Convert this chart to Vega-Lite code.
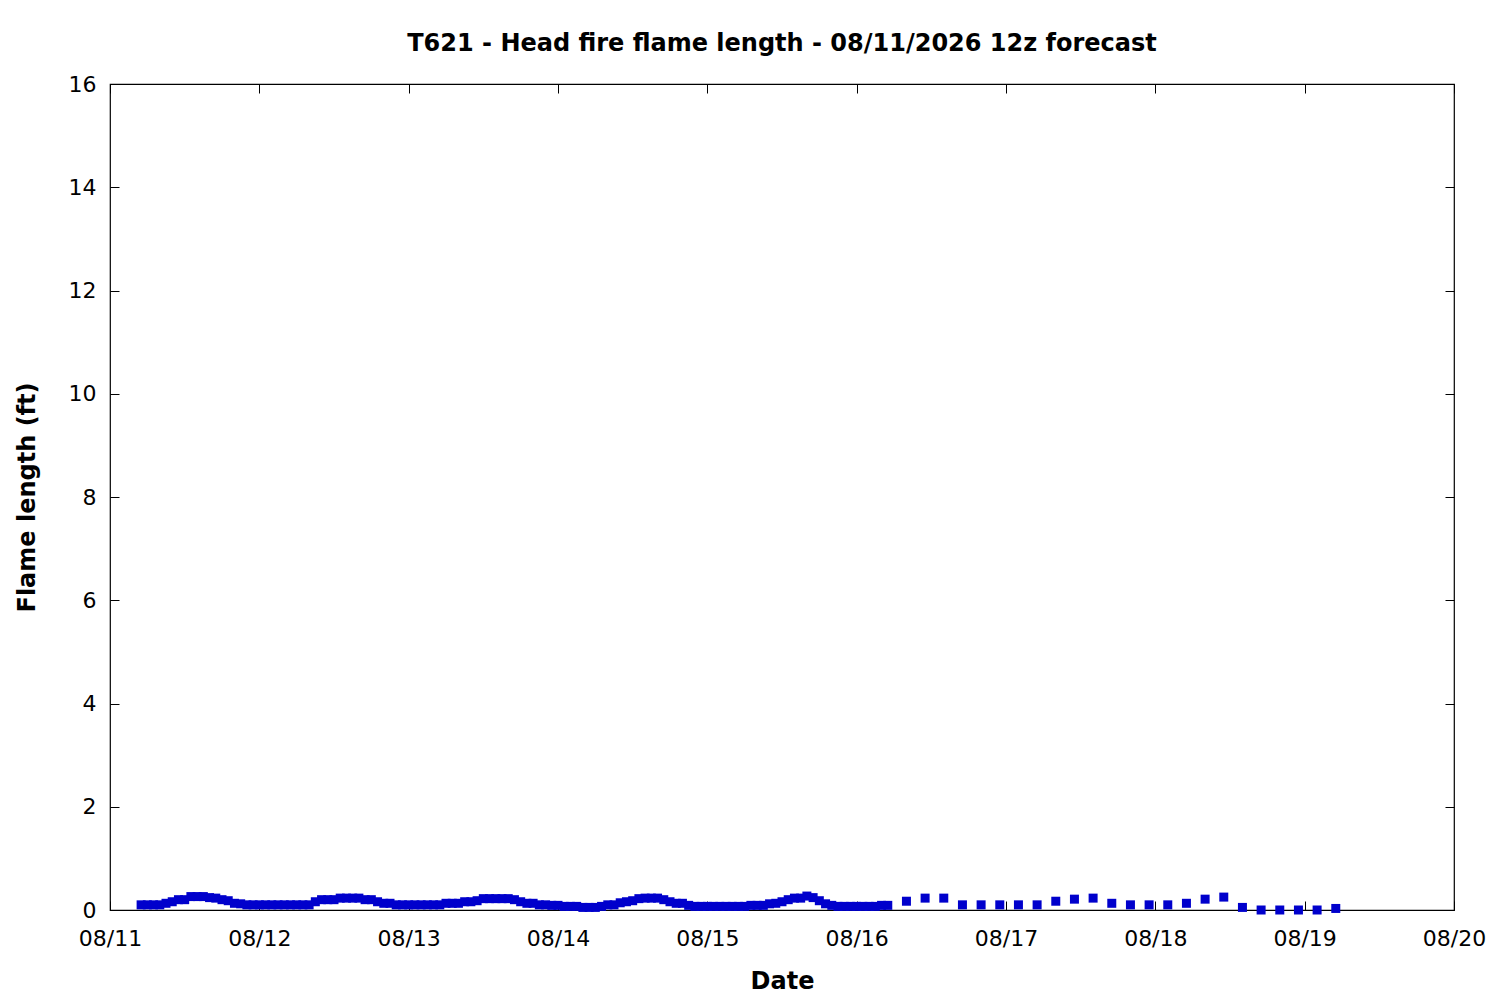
{
  "$schema": "https://vega.github.io/schema/vega-lite/v6.json",
  "width": 1344,
  "height": 826,
  "autosize": {"type": "none"},
  "padding": {"left": 110, "top": 84, "right": 46, "bottom": 90},
  "background": "white",
  "title": {
    "text": "T621 - Head fire flame length - 08/11/2026 12z forecast",
    "font": "DejaVu Sans",
    "fontSize": 24,
    "fontWeight": "bold",
    "anchor": "middle",
    "frame": "group",
    "offset": 17,
    "color": "black"
  },
  "data": {
    "values": [
      {"t": "2026-08-11T05:00:00Z", "fl": 0.1},
      {"t": "2026-08-11T06:00:00Z", "fl": 0.1},
      {"t": "2026-08-11T07:00:00Z", "fl": 0.1},
      {"t": "2026-08-11T08:00:00Z", "fl": 0.1},
      {"t": "2026-08-11T09:00:00Z", "fl": 0.13},
      {"t": "2026-08-11T10:00:00Z", "fl": 0.16},
      {"t": "2026-08-11T11:00:00Z", "fl": 0.2},
      {"t": "2026-08-11T12:00:00Z", "fl": 0.2},
      {"t": "2026-08-11T13:00:00Z", "fl": 0.26},
      {"t": "2026-08-11T14:00:00Z", "fl": 0.26},
      {"t": "2026-08-11T15:00:00Z", "fl": 0.26},
      {"t": "2026-08-11T16:00:00Z", "fl": 0.24},
      {"t": "2026-08-11T17:00:00Z", "fl": 0.23},
      {"t": "2026-08-11T18:00:00Z", "fl": 0.2},
      {"t": "2026-08-11T19:00:00Z", "fl": 0.18},
      {"t": "2026-08-11T20:00:00Z", "fl": 0.13},
      {"t": "2026-08-11T21:00:00Z", "fl": 0.12},
      {"t": "2026-08-11T22:00:00Z", "fl": 0.1},
      {"t": "2026-08-11T23:00:00Z", "fl": 0.1},
      {"t": "2026-08-12T00:00:00Z", "fl": 0.1},
      {"t": "2026-08-12T01:00:00Z", "fl": 0.1},
      {"t": "2026-08-12T02:00:00Z", "fl": 0.1},
      {"t": "2026-08-12T03:00:00Z", "fl": 0.1},
      {"t": "2026-08-12T04:00:00Z", "fl": 0.1},
      {"t": "2026-08-12T05:00:00Z", "fl": 0.1},
      {"t": "2026-08-12T06:00:00Z", "fl": 0.1},
      {"t": "2026-08-12T07:00:00Z", "fl": 0.1},
      {"t": "2026-08-12T08:00:00Z", "fl": 0.1},
      {"t": "2026-08-12T09:00:00Z", "fl": 0.16},
      {"t": "2026-08-12T10:00:00Z", "fl": 0.2},
      {"t": "2026-08-12T11:00:00Z", "fl": 0.2},
      {"t": "2026-08-12T12:00:00Z", "fl": 0.2},
      {"t": "2026-08-12T13:00:00Z", "fl": 0.23},
      {"t": "2026-08-12T14:00:00Z", "fl": 0.23},
      {"t": "2026-08-12T15:00:00Z", "fl": 0.23},
      {"t": "2026-08-12T16:00:00Z", "fl": 0.23},
      {"t": "2026-08-12T17:00:00Z", "fl": 0.2},
      {"t": "2026-08-12T18:00:00Z", "fl": 0.2},
      {"t": "2026-08-12T19:00:00Z", "fl": 0.16},
      {"t": "2026-08-12T20:00:00Z", "fl": 0.13},
      {"t": "2026-08-12T21:00:00Z", "fl": 0.13},
      {"t": "2026-08-12T22:00:00Z", "fl": 0.1},
      {"t": "2026-08-12T23:00:00Z", "fl": 0.1},
      {"t": "2026-08-13T00:00:00Z", "fl": 0.1},
      {"t": "2026-08-13T01:00:00Z", "fl": 0.1},
      {"t": "2026-08-13T02:00:00Z", "fl": 0.1},
      {"t": "2026-08-13T03:00:00Z", "fl": 0.1},
      {"t": "2026-08-13T04:00:00Z", "fl": 0.1},
      {"t": "2026-08-13T05:00:00Z", "fl": 0.1},
      {"t": "2026-08-13T06:00:00Z", "fl": 0.13},
      {"t": "2026-08-13T07:00:00Z", "fl": 0.13},
      {"t": "2026-08-13T08:00:00Z", "fl": 0.13},
      {"t": "2026-08-13T09:00:00Z", "fl": 0.16},
      {"t": "2026-08-13T10:00:00Z", "fl": 0.16},
      {"t": "2026-08-13T11:00:00Z", "fl": 0.18},
      {"t": "2026-08-13T12:00:00Z", "fl": 0.22},
      {"t": "2026-08-13T13:00:00Z", "fl": 0.22},
      {"t": "2026-08-13T14:00:00Z", "fl": 0.22},
      {"t": "2026-08-13T15:00:00Z", "fl": 0.22},
      {"t": "2026-08-13T16:00:00Z", "fl": 0.22},
      {"t": "2026-08-13T17:00:00Z", "fl": 0.2},
      {"t": "2026-08-13T18:00:00Z", "fl": 0.16},
      {"t": "2026-08-13T19:00:00Z", "fl": 0.13},
      {"t": "2026-08-13T20:00:00Z", "fl": 0.13},
      {"t": "2026-08-13T21:00:00Z", "fl": 0.1},
      {"t": "2026-08-13T22:00:00Z", "fl": 0.1},
      {"t": "2026-08-13T23:00:00Z", "fl": 0.09},
      {"t": "2026-08-14T00:00:00Z", "fl": 0.09},
      {"t": "2026-08-14T01:00:00Z", "fl": 0.07},
      {"t": "2026-08-14T02:00:00Z", "fl": 0.07},
      {"t": "2026-08-14T03:00:00Z", "fl": 0.07},
      {"t": "2026-08-14T04:00:00Z", "fl": 0.05},
      {"t": "2026-08-14T05:00:00Z", "fl": 0.05},
      {"t": "2026-08-14T06:00:00Z", "fl": 0.05},
      {"t": "2026-08-14T07:00:00Z", "fl": 0.07},
      {"t": "2026-08-14T08:00:00Z", "fl": 0.1},
      {"t": "2026-08-14T09:00:00Z", "fl": 0.1},
      {"t": "2026-08-14T10:00:00Z", "fl": 0.14},
      {"t": "2026-08-14T11:00:00Z", "fl": 0.16},
      {"t": "2026-08-14T12:00:00Z", "fl": 0.18},
      {"t": "2026-08-14T13:00:00Z", "fl": 0.22},
      {"t": "2026-08-14T14:00:00Z", "fl": 0.23},
      {"t": "2026-08-14T15:00:00Z", "fl": 0.23},
      {"t": "2026-08-14T16:00:00Z", "fl": 0.23},
      {"t": "2026-08-14T17:00:00Z", "fl": 0.2},
      {"t": "2026-08-14T18:00:00Z", "fl": 0.16},
      {"t": "2026-08-14T19:00:00Z", "fl": 0.13},
      {"t": "2026-08-14T20:00:00Z", "fl": 0.13},
      {"t": "2026-08-14T21:00:00Z", "fl": 0.09},
      {"t": "2026-08-14T22:00:00Z", "fl": 0.07},
      {"t": "2026-08-14T23:00:00Z", "fl": 0.07},
      {"t": "2026-08-15T00:00:00Z", "fl": 0.07},
      {"t": "2026-08-15T01:00:00Z", "fl": 0.07},
      {"t": "2026-08-15T02:00:00Z", "fl": 0.07},
      {"t": "2026-08-15T03:00:00Z", "fl": 0.07},
      {"t": "2026-08-15T04:00:00Z", "fl": 0.07},
      {"t": "2026-08-15T05:00:00Z", "fl": 0.07},
      {"t": "2026-08-15T06:00:00Z", "fl": 0.07},
      {"t": "2026-08-15T07:00:00Z", "fl": 0.09},
      {"t": "2026-08-15T08:00:00Z", "fl": 0.09},
      {"t": "2026-08-15T09:00:00Z", "fl": 0.09},
      {"t": "2026-08-15T10:00:00Z", "fl": 0.12},
      {"t": "2026-08-15T11:00:00Z", "fl": 0.13},
      {"t": "2026-08-15T12:00:00Z", "fl": 0.16},
      {"t": "2026-08-15T13:00:00Z", "fl": 0.2},
      {"t": "2026-08-15T14:00:00Z", "fl": 0.23},
      {"t": "2026-08-15T15:00:00Z", "fl": 0.23},
      {"t": "2026-08-15T16:00:00Z", "fl": 0.27},
      {"t": "2026-08-15T17:00:00Z", "fl": 0.24},
      {"t": "2026-08-15T18:00:00Z", "fl": 0.18},
      {"t": "2026-08-15T19:00:00Z", "fl": 0.12},
      {"t": "2026-08-15T20:00:00Z", "fl": 0.09},
      {"t": "2026-08-15T21:00:00Z", "fl": 0.07},
      {"t": "2026-08-15T22:00:00Z", "fl": 0.07},
      {"t": "2026-08-15T23:00:00Z", "fl": 0.07},
      {"t": "2026-08-16T00:00:00Z", "fl": 0.07},
      {"t": "2026-08-16T01:00:00Z", "fl": 0.07},
      {"t": "2026-08-16T02:00:00Z", "fl": 0.07},
      {"t": "2026-08-16T03:00:00Z", "fl": 0.07},
      {"t": "2026-08-16T04:00:00Z", "fl": 0.09},
      {"t": "2026-08-16T05:00:00Z", "fl": 0.09},
      {"t": "2026-08-16T08:00:00Z", "fl": 0.17},
      {"t": "2026-08-16T11:00:00Z", "fl": 0.23},
      {"t": "2026-08-16T14:00:00Z", "fl": 0.23},
      {"t": "2026-08-16T17:00:00Z", "fl": 0.1},
      {"t": "2026-08-16T20:00:00Z", "fl": 0.1},
      {"t": "2026-08-16T23:00:00Z", "fl": 0.1},
      {"t": "2026-08-17T02:00:00Z", "fl": 0.1},
      {"t": "2026-08-17T05:00:00Z", "fl": 0.1},
      {"t": "2026-08-17T08:00:00Z", "fl": 0.17},
      {"t": "2026-08-17T11:00:00Z", "fl": 0.21},
      {"t": "2026-08-17T14:00:00Z", "fl": 0.23},
      {"t": "2026-08-17T17:00:00Z", "fl": 0.13},
      {"t": "2026-08-17T20:00:00Z", "fl": 0.1},
      {"t": "2026-08-17T23:00:00Z", "fl": 0.1},
      {"t": "2026-08-18T02:00:00Z", "fl": 0.1},
      {"t": "2026-08-18T05:00:00Z", "fl": 0.13},
      {"t": "2026-08-18T08:00:00Z", "fl": 0.21},
      {"t": "2026-08-18T11:00:00Z", "fl": 0.25},
      {"t": "2026-08-18T14:00:00Z", "fl": 0.05},
      {"t": "2026-08-18T17:00:00Z", "fl": 0},
      {"t": "2026-08-18T20:00:00Z", "fl": 0},
      {"t": "2026-08-18T23:00:00Z", "fl": 0},
      {"t": "2026-08-19T02:00:00Z", "fl": 0},
      {"t": "2026-08-19T05:00:00Z", "fl": 0.03}
    ]
  },
  "layer": [
    {
      "mark": {"type": "square", "filled": true, "size": 81, "opacity": 1, "color": "#0000cc"},
      "encoding": {
        "x": {
          "field": "t",
          "type": "temporal",
          "title": "Date",
          "scale": {
            "type": "utc",
            "domain": [
              {"year": 2026, "month": 8, "date": 11, "utc": true},
              {"year": 2026, "month": 8, "date": 20, "utc": true}
            ],
            "nice": false
          },
          "axis": {
            "orient": "bottom",
            "labelExpr": "utcFormat(datum.value, '%m/%d')",
            "tickCount": {"interval": "day", "step": 1},
            "labelPadding": 27,
            "titlePadding": 20
          }
        },
        "y": {
          "field": "fl",
          "type": "quantitative",
          "title": "Flame length (ft)",
          "scale": {"domain": [0, 16], "nice": false},
          "axis": {
            "orient": "left",
            "values": [0, 2, 4, 6, 8, 10, 12, 14, 16],
            "labelPadding": 23,
            "titlePadding": 29
          }
        }
      }
    },
    {
      "mark": {"type": "square", "opacity": 0},
      "encoding": {
        "x": {
          "field": "t",
          "type": "temporal",
          "scale": {
            "type": "utc",
            "domain": [
              {"year": 2026, "month": 8, "date": 11, "utc": true},
              {"year": 2026, "month": 8, "date": 20, "utc": true}
            ],
            "nice": false
          },
          "axis": {
            "orient": "top",
            "labels": false,
            "title": null,
            "tickCount": {"interval": "day", "step": 1}
          }
        },
        "y": {
          "field": "fl",
          "type": "quantitative",
          "scale": {"domain": [0, 16], "nice": false},
          "axis": {
            "orient": "right",
            "labels": false,
            "title": null,
            "values": [0, 2, 4, 6, 8, 10, 12, 14, 16]
          }
        }
      }
    }
  ],
  "resolve": {"axis": {"x": "independent", "y": "independent"}},
  "config": {
    "font": "DejaVu Sans",
    "view": {"stroke": "black", "strokeWidth": 1.2},
    "axis": {
      "grid": false,
      "domain": false,
      "tickSize": -9,
      "tickColor": "black",
      "tickWidth": 1,
      "labelFont": "DejaVu Sans",
      "labelFontSize": 22,
      "labelColor": "black",
      "titleFont": "DejaVu Sans",
      "titleFontSize": 24,
      "titleFontWeight": "bold",
      "titleColor": "black",
      "labelFlush": false,
      "labelOverlap": false
    }
  }
}
